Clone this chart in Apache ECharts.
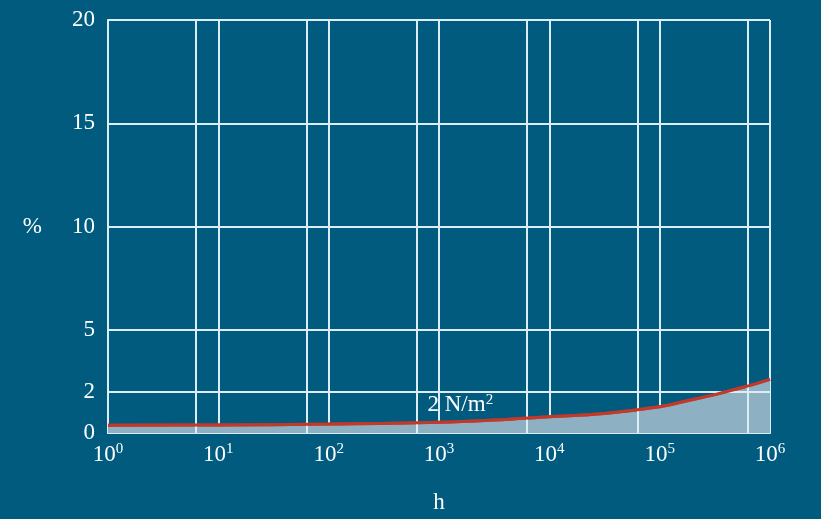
<!DOCTYPE html>
<html><head><meta charset="utf-8">
<script src="https://cdn.jsdelivr.net/npm/echarts@6/dist/echarts.min.js"></script>
<style>html,body{margin:0;padding:0;background:#005b7e;}#c{width:821px;height:519px;}</style>
</head><body><div id="c"></div>
<script>
const hours = [1, 10, 100, 1000, 3162, 10000, 31623, 100000, 177828, 316228, 562341, 1000000];
const percent = [0.38, 0.39, 0.43, 0.52, 0.63, 0.79, 0.95, 1.27, 1.56, 1.86, 2.2, 2.6];
const yTicks = [0, 2, 5, 10, 15, 20];
const extraGridX = [6.3, 63, 630, 6300, 63000, 630000];
const curveLabelBase = '2 N/m';
const curveLabelSup = '2';
const labelPos = [1560, 1.35];
const xName = 'h';
const yName = '%';

const gridColor = '#dceef5';
const font = 'Liberation Serif';
const rich = {
  b: {fontSize: 23, lineHeight: 25, color: '#ffffff', fontFamily: font, textBorderWidth: 0, opacity: 1},
  s: {fontSize: 15, lineHeight: 15, verticalAlign: 'top', color: '#ffffff', fontFamily: font, textBorderWidth: 0, opacity: 1}
};
const chart = echarts.init(document.getElementById('c'));
const pts = hours.map((h, i) => [h, percent[i]]);
chart.setOption({
  backgroundColor: '#005b7e',
  animation: false,
  grid: {left: 108, right: 51, top: 20, bottom: 86},
  xAxis: {
    type: 'log', min: 1, max: 1000000, logBase: 10,
    name: xName, nameLocation: 'middle', nameGap: 58,
    nameTextStyle: {color: '#fff', fontFamily: font, fontSize: 23},
    axisLine: {lineStyle: {color: gridColor, width: 2}},
    axisTick: {show: false},
    splitLine: {show: true, lineStyle: {color: gridColor, width: 2}},
    axisLabel: {
      color: '#fff', fontFamily: font, fontSize: 23, margin: 9,
      formatter: v => '{b|10}{s|' + Math.round(Math.log10(v)) + '}',
      rich: rich
    }
  },
  yAxis: {
    type: 'value', min: 0, max: 20, interval: 5,
    name: yName, nameLocation: 'middle', nameGap: 66, nameRotate: 0,
    nameTextStyle: {color: '#fff', fontFamily: font, fontSize: 23},
    axisLine: {show: true, lineStyle: {color: gridColor, width: 2}},
    axisTick: {show: false, customValues: yTicks},
    splitLine: {show: true, lineStyle: {color: gridColor, width: 2}},
    axisLabel: {color: '#fff', fontFamily: font, fontSize: 23, margin: 13, customValues: yTicks}
  },
  series: [{
    type: 'line', smooth: 0.4, symbol: 'none',
    data: pts,
    lineStyle: {color: '#c0392b', width: 3},
    areaStyle: {color: '#8db1c2', opacity: 1, origin: 'start'},
    z: 1,
    markLine: {
      silent: true, symbol: 'none', label: {show: false},
      lineStyle: {color: gridColor, width: 2, type: 'solid'},
      data: extraGridX.map(x => ({xAxis: x})).concat([{yAxis: 2}])
    }
  }, {
    type: 'line', smooth: 0.4, symbol: 'none', z: 5,
    data: pts,
    lineStyle: {color: '#c0392b', width: 3}
  }, {
    type: 'scatter', symbolSize: 0, z: 6, silent: true,
    data: [labelPos],
    label: {show: true, position: 'inside', color: '#fff', textBorderWidth: 0, opacity: 1,
      formatter: '{b|' + curveLabelBase + '}{s|' + curveLabelSup + '}', rich: rich}
  }]
});
</script></body></html>
